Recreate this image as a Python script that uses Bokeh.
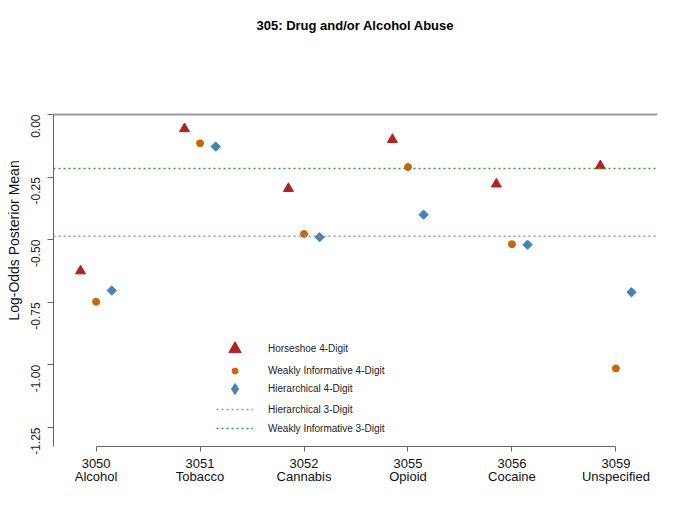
import numpy as np
from bokeh.plotting import figure
from bokeh.models import (ColumnDataSource, FixedTicker, Span, Legend, LegendItem,
                          NumeralTickFormatter, Range1d)
from bokeh.transform import dodge
from bokeh.embed import file_html
from bokeh.resources import INLINE

# ---- data ----
codes = ["3050", "3051", "3052", "3055", "3056", "3059"]
names = ["Alcohol", "Tobacco", "Cannabis", "Opioid", "Cocaine", "Unspecified"]
horseshoe_4 = [-0.625, -0.057, -0.296, -0.100, -0.278, -0.205]
weakly_4 = [-0.748, -0.115, -0.477, -0.210, -0.518, -1.014]
hier_4 = [-0.703, -0.128, -0.490, -0.400, -0.520, -0.710]
hier_3 = -0.486
weakly_3 = -0.216
y_ticks = [0.0, -0.25, -0.50, -0.75, -1.00, -1.25]

FONT = "Liberation Sans"
C_HS = "#B22222"
C_WI = "#CD6600"
C_HI = "#4682B4"
C_H3 = "#6CA6CD"
C_W3 = "#33A02C"
DASH = "2 3"

pos = list(range(1, len(codes) + 1))
src = ColumnDataSource(dict(pos=pos, hs=horseshoe_4, wi=weakly_4, hi=hier_4))
nan_src = ColumnDataSource(dict(x=[np.nan], y=[np.nan]))  # legend-only proxies

p = figure(width=684, height=511, output_backend="svg", toolbar_location=None,
           x_range=Range1d(0.59, 6.4), y_range=Range1d(-1.326, 0.3195),
           min_border_left=53, min_border_right=27, min_border_top=34, min_border_bottom=65,
           title="305: Drug and/or Alcohol Abuse")
p.grid.visible = False
p.outline_line_color = None
p.background_fill_color = "white"

p.title.align = "center"
p.title.text_font = FONT
p.title.text_font_size = "13px"
p.title.text_font_style = "bold"
p.title.text_color = "#000000"
p.title.standoff = 3

# reference lines
p.add_layout(Span(location=0, dimension="width", line_color="#9a9a9a", line_width=2))
p.add_layout(Span(location=hier_3, dimension="width", line_color=C_H3, line_width=1.5, line_dash=DASH))
p.add_layout(Span(location=weakly_3, dimension="width", line_color=C_W3, line_width=1.5, line_dash=DASH))

r_hs = p.scatter(x=dodge("pos", -0.15), y="hs", source=src, marker="triangle", size=10,
                 fill_color=C_HS, line_color=C_HS)
r_wi = p.scatter(x="pos", y="wi", source=src, marker="circle", size=7,
                 fill_color=C_WI, line_color=C_WI)
r_hi = p.scatter(x=dodge("pos", 0.15), y="hi", source=src, marker="square", angle=np.pi / 4,
                 size=6.6, fill_color=C_HI, line_color=C_HI)
r_hi_leg = p.scatter(x="x", y="y", source=nan_src, marker="diamond", size=11,
                     fill_color=C_HI, line_color=C_HI)
r_h3 = p.line(x="x", y="y", source=nan_src, line_color=C_H3, line_width=1.5, line_dash=DASH)
r_w3 = p.line(x="x", y="y", source=nan_src, line_color=C_W3, line_width=1.5, line_dash=DASH)

# legend (one entry per legend to control glyph size)
entries = [
    ("Horseshoe 4-Digit", r_hs, 31, 97),
    ("Weakly Informative 4-Digit", r_wi, 15, 76),
    ("Hierarchical 4-Digit", r_hi_leg, 27, 57),
    ("Hierarchical 3-Digit", r_h3, 20, 37),
    ("Weakly Informative 3-Digit", r_w3, 20, 18),
]
for label, rend, gh, cy in entries:
    leg = Legend(items=[LegendItem(label=label, renderers=[rend])],
                 location=(163, int(round(cy - gh / 2))), glyph_width=37, glyph_height=gh,
                 label_height=gh, label_standoff=15, padding=0, margin=0, spacing=0,
                 border_line_color=None, background_fill_alpha=0,
                 label_text_font=FONT, label_text_font_size="10px", label_text_color="#222222")
    p.add_layout(leg)

# axes
AX = "#666666"
yax = p.yaxis[0]
yax.ticker = FixedTicker(ticks=y_ticks)
yax.formatter = NumeralTickFormatter(format="0.00")
yax.bounds = (-1.326, 0)
yax.major_label_orientation = np.pi / 2
yax.minor_tick_line_color = None
yax.major_tick_in = 0
yax.major_tick_out = 6
yax.axis_line_color = AX
yax.major_tick_line_color = AX
yax.major_label_text_font = FONT
yax.major_label_text_font_size = "12px"
yax.major_label_text_color = "#222222"
yax.major_label_standoff = 12
yax.axis_label = "Log-Odds Posterior Mean"
yax.axis_label_text_font = FONT
yax.axis_label_text_font_size = "14px"
yax.axis_label_text_font_style = "normal"
yax.axis_label_text_color = "#111111"
yax.axis_label_standoff = 2

xax = p.xaxis[0]
xax.ticker = FixedTicker(ticks=pos)
xax.major_label_overrides = {i: f"{c}\n{n}" for i, c, n in zip(pos, codes, names)}
xax.bounds = (1, 6)
xax.minor_tick_line_color = None
xax.major_tick_in = 0
xax.major_tick_out = 5
xax.axis_line_color = AX
xax.major_tick_line_color = AX
xax.major_label_text_font = FONT
xax.major_label_text_font_size = "13px"
xax.major_label_text_line_height = 0.9
xax.major_label_text_color = "#111111"
xax.major_label_standoff = 4

open("out.html", "w").write(file_html(p, INLINE))
